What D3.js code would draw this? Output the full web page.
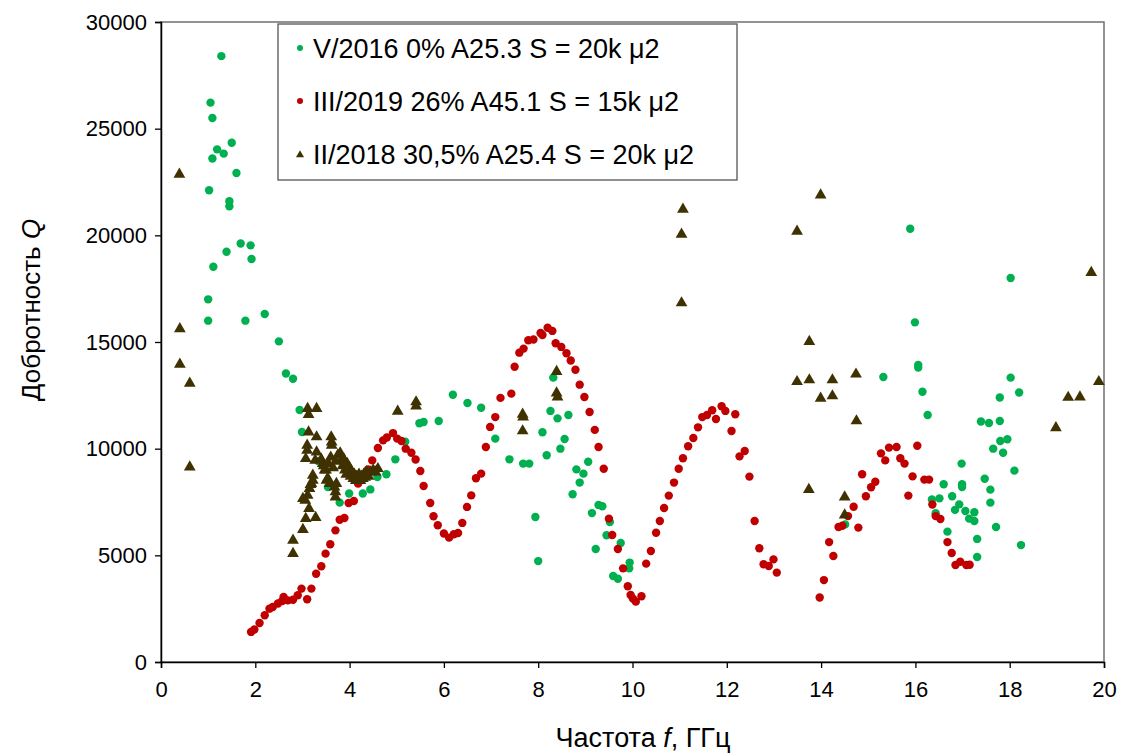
<!DOCTYPE html>
<html>
<head>
<meta charset="utf-8">
<script src="https://cdn.jsdelivr.net/npm/d3@7"></script>
<style>
  body { margin: 0; background: #fff; }
  text { font-family: "Liberation Sans", Arial, sans-serif; fill: #000; }
</style>
</head>
<body>
<div class="chart"></div>
<script>
// series: V/2016 (green dots) [f GHz, Q]
var seriesV2016 = [
  [1.28,28400],[1.05,26220],[1.09,25500],[1.50,24340],[1.19,24030],[1.33,23830],[1.09,23600],
  [1.60,22920],[1.02,22110],[1.45,21600],[1.45,21360],[1.69,19620],[1.90,19530],[1.92,18890],
  [1.39,19230],[1.11,18530],[1.00,17000],[1.00,16000],[1.79,16000],[2.20,16310],[2.50,15030],
  [2.65,13520],[2.80,13280],[2.94,11810],[2.99,10780],[3.33,9420],[3.54,8200],[3.79,7470],
  [3.99,7900],[4.28,7900],[4.44,8090],[4.59,8670],[4.78,8800],[4.97,9500],[5.18,10330],
  [5.48,11190],[5.57,11250],[5.89,11300],[6.19,12530],[6.50,12140],[6.79,11920],[7.09,10470],
  [7.39,9500],[7.68,9300],[7.81,9300],[7.94,6800],[8.00,4730],[8.32,13330],[8.26,11770],
  [8.41,11420],[8.64,11580],[8.09,10770],[8.18,9690],[8.56,10450],[8.47,10000],[9.06,9390],
  [8.81,9030],[8.96,8830],[8.88,8410],[8.73,7860],[9.28,7360],[9.36,7300],[9.14,6980],
  [9.52,6560],[9.45,5940],[9.75,5580],[9.22,5300],[9.94,4660],[9.93,4390],[9.59,4030],
  [9.69,3900],[14.51,6450],[15.32,13360],[15.89,20310],[15.99,15920],[16.06,13920],[16.06,13800],
  [16.15,12670],[16.26,11580],[18.02,18000],[18.02,13330],[18.20,12630],[17.79,12400],[17.39,11270],
  [17.56,11200],[17.79,11300],[17.80,10360],[17.95,10440],[17.65,10000],[17.86,9810],[18.10,8970],
  [16.98,9300],[17.47,8590],[17.59,8080],[17.59,7470],[16.99,8330],[16.99,8200],[16.60,8330],
  [16.35,7620],[16.51,7670],[16.78,7770],[16.93,7390],[16.84,7130],[16.43,6970],[17.06,7080],
  [17.25,7020],[17.14,6720],[17.25,6610],[16.68,6110],[17.71,6330],[17.31,5770],[17.31,4920],
  [18.24,5480]
];

// series: III/2019 (red dots)
var seriesIII2019 = [
  [1.91,1410],[1.98,1520],[2.09,1830],[2.20,2190],[2.30,2500],[2.37,2580],[2.48,2740],[2.57,2860],
  [2.60,3050],[2.69,2890],[2.80,2920],[2.90,3130],[2.98,3440],[3.10,2940],[3.19,3440],[3.29,4140],
  [3.40,4490],[3.49,5080],[3.59,5520],[3.70,6170],[3.79,6670],[3.89,6750],[3.98,7450],[4.09,7550],
  [4.18,8360],[4.39,9020],[4.48,9450],[4.60,10030],[4.71,10390],[4.79,10520],[4.92,10730],[5.01,10470],
  [5.10,10360],[5.19,10000],[5.31,9810],[5.40,9490],[5.50,8950],[5.57,8250],[5.71,7450],[5.78,6830],
  [5.87,6410],[6.00,6020],[6.11,5830],[6.21,5990],[6.30,6050],[6.39,6520],[6.49,7270],[6.58,7810],
  [6.68,8610],[6.79,8830],[6.89,10080],[6.98,11020],[7.09,11480],[7.20,12380],[7.43,12580],[7.50,13840],
  [7.60,14500],[7.69,14690],[7.79,15080],[7.90,15120],[8.05,15420],[8.09,15330],[8.20,15670],[8.30,15520],
  [8.37,14940],[8.49,14770],[8.60,14470],[8.69,14130],[8.79,13700],[8.88,13000],[8.98,12420],[9.09,11720],
  [9.20,10880],[9.28,10080],[9.39,9060],[9.50,6720],[9.57,5950],[9.69,5300],[9.80,4390],[9.90,3550],
  [9.96,3140],[10.01,2970],[10.07,2830],[10.19,3080],[10.29,4610],[10.39,5200],[10.50,6060],[10.58,6610],
  [10.67,7220],[10.77,7800],[10.88,8410],[10.98,9060],[11.07,9550],[11.18,10110],[11.29,10500],[11.39,11000],
  [11.48,11480],[11.58,11580],[11.69,11800],[11.89,11990],[11.97,11770],[11.77,11390],[12.18,11610],[12.10,10830],
  [12.27,9640],[12.38,9890],[12.48,8690],[12.59,6610],[12.69,5330],[12.78,4580],[12.89,4500],[12.99,4810],
  [13.06,4190],[13.97,3020],[14.06,3840],[14.17,5620],[14.26,4970],[14.37,6330],[14.45,6390],[14.57,6840],
  [14.69,7280],[14.79,6300],[14.87,8800],[14.95,7770],[15.06,8190],[15.15,8450],[15.27,9780],[15.36,9450],
  [15.44,10050],[15.60,10080],[15.68,9550],[15.77,9300],[16.04,10140],[15.85,7800],[15.94,8700],[16.19,8550],
  [16.29,8550],[16.36,7380],[16.43,6840],[16.53,6700],[16.68,5620],[16.77,5110],[16.85,4550],[16.95,4700],
  [17.08,4550],[17.15,4560]
];

// series: II/2018 (brown triangles)
var seriesII2018 = [
  [0.39,22860],[0.40,15620],[0.40,13950],[0.61,13060],[0.61,9140],[2.80,5700],[2.80,5080],[3.01,6210],
  [3.07,6720],[3.28,6770],[3.14,7190],[3.01,7660],[3.15,8130],[3.19,8360],[3.06,7580],[3.11,7810],
  [3.17,8310],[3.22,8520],[3.22,8750],[3.27,9450],[3.30,9840],[3.07,9530],[3.10,9920],[3.10,10160],
  [3.13,10780],[3.30,10550],[3.11,11880],[3.30,11880],[3.13,11600],[3.61,10550],[3.62,10310],[3.62,10160],
  [3.43,9300],[3.47,8990],[3.51,8520],[3.54,8600],[3.58,8360],[3.68,8200],[3.70,7970],[3.70,7730],
  [3.72,8360],[3.40,9500],[3.45,9200],[3.50,9000],[3.55,9300],[3.60,9600],[3.65,9100],[3.70,9400],
  [3.75,9700],[3.80,9800],[3.82,9450],[3.85,9200],[3.88,9500],[3.90,9000],[3.93,8800],[3.95,9300],
  [3.98,8900],[4.00,9100],[4.02,8700],[4.05,8900],[4.08,8600],[4.10,8800],[4.13,8500],[4.15,8700],
  [4.18,8600],[4.20,8800],[4.23,8500],[4.25,8700],[4.28,8600],[4.30,8800],[4.33,8650],[4.36,8900],
  [4.40,8700],[4.45,8900],[4.50,9000],[4.55,8900],[4.60,9060],[5.02,11750],[5.41,12190],[5.41,12000],
  [7.67,11610],[7.68,11480],[7.67,10830],[8.39,13610],[8.39,12610],[8.41,12420],[11.07,21220],[11.04,20050],
  [11.04,16830],[13.99,21890],[13.49,20190],[13.75,15020],[13.49,13140],[13.75,13220],[14.24,13220],[13.99,12360],
  [14.24,12470],[14.74,13490],[14.75,11300],[13.74,8080],[14.50,7730],[14.50,6890],[19.73,18250],[19.89,13140],
  [19.24,12400],[19.49,12420],[18.98,10980]
];

var xTicks = [0, 2, 4, 6, 8, 10, 12, 14, 16, 18, 20];
var yTicks = [0, 5000, 10000, 15000, 20000, 25000, 30000];
var legendLabels = ["V/2016 0% A25.3 S = 20k \u03bc2", "III/2019 26% A45.1 S = 15k \u03bc2", "II/2018 30,5% A25.4 S = 20k \u03bc2"];

var colGreen = "#00b050", colRed = "#c00000", colBrown = "#3f3100";

var W = 1133, H = 756;
var margin = {top: 22, right: 29, bottom: 94, left: 161};
var width = W - margin.left - margin.right,
    height = H - margin.top - margin.bottom;

var svg = d3.select(".chart").append("svg")
    .attr("width", W).attr("height", H);

var g = svg.append("g")
    .attr("transform", "translate(" + margin.left + "," + margin.top + ")");

var x = d3.scaleLinear().domain([0, 20]).range([0, width]);
var y = d3.scaleLinear().domain([0, 30000]).range([height, 0]);

// frame (top / right)
g.append("rect")
    .attr("x", 0).attr("y", 0)
    .attr("width", width).attr("height", height)
    .attr("fill", "none")
    .attr("stroke", "#6f6f6f")
    .attr("stroke-width", 1.5);

// axes
var xAxis = g.append("g")
    .attr("transform", "translate(0," + height + ")")
    .call(d3.axisBottom(x).tickValues(xTicks).tickSize(6).tickPadding(13).tickFormat(d3.format("d")));
var yAxis = g.append("g")
    .call(d3.axisLeft(y).tickValues(yTicks).tickSize(6).tickPadding(8).tickFormat(d3.format("d")));

[xAxis, yAxis].forEach(function(a) {
    a.select(".domain").attr("stroke", "#000").attr("stroke-width", 1.5);
    a.selectAll(".tick line").attr("stroke", "#000").attr("stroke-width", 1.3);
    a.selectAll(".tick text").style("font-size", "22px").style("font-family", "Liberation Sans, Arial, sans-serif");
});

// points
var tri = d3.symbol().type(d3.symbolTriangle).size(60);

g.append("g").selectAll("circle").data(seriesV2016).join("circle")
    .attr("cx", function(d) { return x(d[0]); })
    .attr("cy", function(d) { return y(d[1]); })
    .attr("r", 4.2)
    .attr("fill", colGreen);

g.append("g").selectAll("circle").data(seriesIII2019).join("circle")
    .attr("cx", function(d) { return x(d[0]); })
    .attr("cy", function(d) { return y(d[1]); })
    .attr("r", 4.2)
    .attr("fill", colRed);

g.append("g").selectAll("path").data(seriesII2018).join("path")
    .attr("d", tri)
    .attr("transform", function(d) { return "translate(" + x(d[0]) + "," + y(d[1]) + ")"; })
    .attr("fill", colBrown);

// legend
var legend = svg.append("g").attr("transform", "translate(278,24)");
legend.append("rect")
    .attr("width", 459).attr("height", 156)
    .attr("fill", "#fff")
    .attr("stroke", "#555").attr("stroke-width", 1.3);

var rows = [
    {label: legendLabels[0], color: colGreen, shape: "circle"},
    {label: legendLabels[1], color: colRed, shape: "circle"},
    {label: legendLabels[2], color: colBrown, shape: "tri"}
];
rows.forEach(function(r, i) {
    var cy = 24 + i * 53;
    if (r.shape === "circle") {
        legend.append("circle").attr("cx", 22).attr("cy", cy).attr("r", 3).attr("fill", r.color);
    } else {
        legend.append("path").attr("d", d3.symbol().type(d3.symbolTriangle).size(28))
            .attr("transform", "translate(22," + (cy + 1) + ")").attr("fill", r.color);
    }
    legend.append("text")
        .attr("x", 35).attr("y", cy + 10)
        .style("font-size", "27px")
        .text(r.label);
});

// axis titles
var xt = svg.append("text")
    .attr("x", 643).attr("y", 747)
    .attr("text-anchor", "middle")
    .style("font-size", "27px");
xt.append("tspan").text("Частота ");
xt.append("tspan").style("font-style", "italic").text("f");
xt.append("tspan").text(", ГГц");

var yt = svg.append("text")
    .attr("transform", "translate(40,310) rotate(-90)")
    .attr("text-anchor", "middle")
    .style("font-size", "26px");
yt.append("tspan").text("Добротность ");
yt.append("tspan").style("font-style", "italic").text("Q");
</script>
</body>
</html>
